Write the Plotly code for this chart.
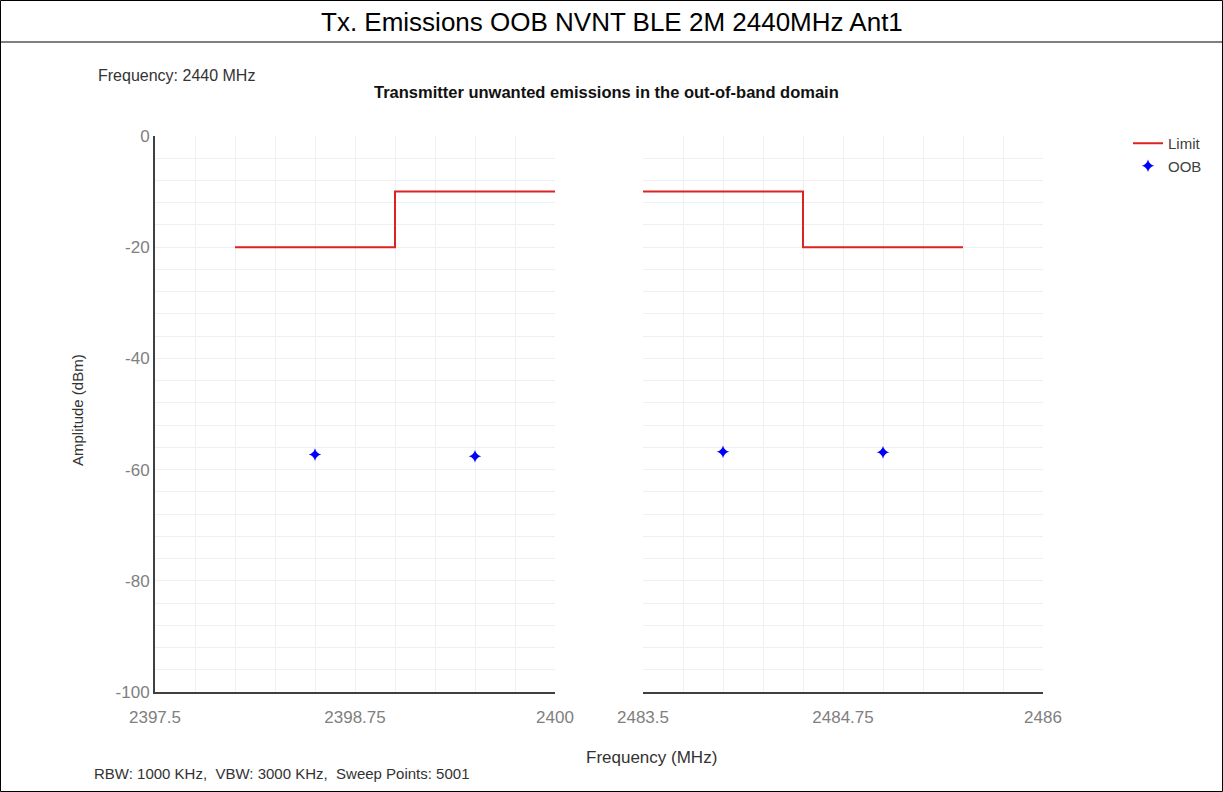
import plotly.graph_objects as go

# ── Data ──────────────────────────────────────────────────────────────
limit_low_freq = [2398.0, 2399.0, 2400.0]
limit_low_db = [-20, -10, -10]
limit_high_freq = [2483.5, 2484.5, 2485.5]
limit_high_db = [-10, -20, -20]

oob_low_freq = [2398.5, 2399.5]
oob_low_db = [-57.3, -57.6]
oob_high_freq = [2484.0, 2485.0]
oob_high_db = [-56.8, -56.9]

low_ticks = [2397.5, 2398.75, 2400]
high_ticks = [2483.5, 2484.75, 2486]
y_ticks = [0, -20, -40, -60, -80, -100]

W, H = 1223, 792
FONT = "Liberation Sans, Arial, sans-serif"
LIMIT_RED = "#dd2222"
OOB_BLUE = "#0000ff"
GRID = "#f0f0f0"
AXIS = "#404040"
TICK_GRAY = "#808080"


def px(x):
    return x / W


def py(y):
    return 1 - y / H


fig = go.Figure()

fig.add_trace(go.Scatter(
    x=limit_low_freq, y=limit_low_db, mode="lines", name="Limit",
    line=dict(color=LIMIT_RED, width=2, shape="hv"),
    legendgroup="limit", xaxis="x", yaxis="y",
))
fig.add_trace(go.Scatter(
    x=oob_low_freq, y=oob_low_db, mode="markers", name="OOB",
    marker=dict(color=OOB_BLUE, symbol="star-diamond", size=9),
    legendgroup="oob", xaxis="x", yaxis="y",
))
fig.add_trace(go.Scatter(
    x=limit_high_freq, y=limit_high_db, mode="lines", name="Limit",
    line=dict(color=LIMIT_RED, width=2, shape="hv"),
    legendgroup="limit", showlegend=False, xaxis="x2", yaxis="y2",
))
fig.add_trace(go.Scatter(
    x=oob_high_freq, y=oob_high_db, mode="markers", name="OOB",
    marker=dict(color=OOB_BLUE, symbol="star-diamond", size=9),
    legendgroup="oob", showlegend=False, xaxis="x2", yaxis="y2",
))

y_dom = [py(692), py(136)]


def x_axis(domain, rng, ticks, anchor):
    return dict(
        domain=domain, range=rng, anchor=anchor, automargin=False,
        showline=True, linecolor=AXIS, linewidth=2,
        showgrid=True, gridcolor=GRID, gridwidth=1,
        zeroline=False, ticks="", ticklabelstandoff=9,
        tickfont=dict(size=17, color=TICK_GRAY, family=FONT),
        tickmode="array", tickvals=ticks, ticktext=[f"{t:g}" for t in ticks],
        minor=dict(tickmode="linear", tick0=rng[0], dtick=0.25,
                   showgrid=True, gridcolor=GRID, ticks=""),
    )


def y_axis(anchor, labelled):
    return dict(
        domain=y_dom, range=[-100, 0], anchor=anchor, automargin=False,
        showline=labelled, linecolor=AXIS, linewidth=2,
        showticklabels=labelled,
        showgrid=True, gridcolor=GRID, zeroline=False, ticks="",
        tickmode="array", tickvals=y_ticks,
        ticktext=[str(t) for t in y_ticks],
        tickfont=dict(size=17, color=TICK_GRAY, family=FONT),
        minor=dict(tickmode="linear", tick0=0, dtick=4,
                   showgrid=True, gridcolor=GRID, ticks=""),
    )


fig.update_layout(
    width=W, height=H, autosize=False,
    margin=dict(l=0, r=0, t=0, b=0, pad=0),
    paper_bgcolor="white", plot_bgcolor="white",
    font=dict(family=FONT, color="#333333"),
    xaxis=x_axis([px(155), px(555)], [2397.5, 2400], low_ticks, "y"),
    xaxis2=x_axis([px(643), px(1043)], [2483.5, 2486], high_ticks, "y2"),
    yaxis=y_axis("x", True),
    yaxis2=y_axis("x2", False),
    legend=dict(
        x=px(1128), y=py(127), xanchor="left", yanchor="top",
        bgcolor="rgba(0,0,0,0)", borderwidth=0,
        font=dict(size=15, color="#404040", family=FONT),
        tracegroupgap=0,
    ),
    showlegend=True,
)

# ── Frame and header bar ─────────────────────────────────────────────
fig.add_shape(type="rect", xref="paper", yref="paper",
              x0=px(0.5), x1=px(W - 0.5), y0=py(H - 0.5), y1=py(0.5),
              line=dict(color="#000000", width=1))
fig.add_shape(type="line", xref="paper", yref="paper",
              x0=0, x1=1, y0=py(42), y1=py(42),
              line=dict(color="#000000", width=1))


# ── Text ─────────────────────────────────────────────────────────────
def note(text, x, y, size, color="#222222", bold=False, angle=0,
         xanchor="center"):
    fig.add_annotation(
        text=f"<b>{text}</b>" if bold else text,
        xref="paper", yref="paper", x=px(x), y=py(y),
        xanchor=xanchor, yanchor="middle", showarrow=False,
        textangle=angle,
        font=dict(size=size, color=color, family=FONT),
    )


note("Tx. Emissions OOB NVNT BLE 2M 2440MHz Ant1", W / 2, 22, 26, "#000000")
note("Frequency: 2440 MHz", 96, 76, 16, "#333333", xanchor="left")
note("Transmitter unwanted emissions in the out-of-band domain",
     606, 92, 16.5, "#111111", bold=True)
note("Amplitude (dBm)", 78, 410, 15, "#333333", angle=-90)
note("Frequency (MHz)", 651, 757, 17, "#333333")
note("RBW: 1000 KHz,  VBW: 3000 KHz,  Sweep Points: 5001",
     92, 773, 15, "#333333", xanchor="left")

fig.write_html("out.html", config={"displayModeBar": False},
               post_script="document.body.style.margin='0';")
